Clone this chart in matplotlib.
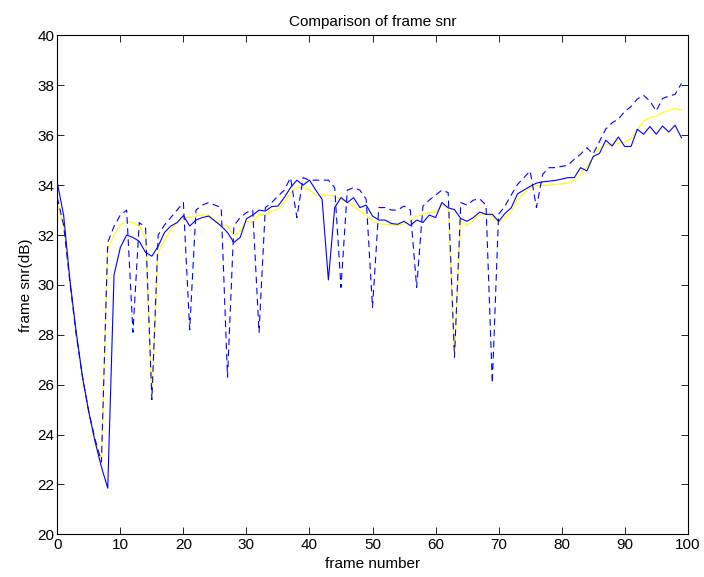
import matplotlib
matplotlib.use("Agg")
import matplotlib.pyplot as plt
import numpy as np

# frame snr values, frames 0..99
frames = np.arange(100)

snr_solid = [
    34.1, 32.8, 30.2, 28.1, 26.3, 24.9, 23.7, 22.7, 21.85, 30.4,
    31.5, 32.0, 31.9, 31.75, 31.3, 31.15, 31.55, 32.1, 32.36, 32.5,
    32.78, 32.36, 32.6, 32.7, 32.76, 32.56, 32.36, 32.1, 31.7, 31.9,
    32.65, 32.8, 33.0, 32.96, 33.14, 33.16, 33.5, 33.9, 34.2, 34.0,
    34.2, 33.8, 33.43, 30.2, 33.1, 33.5, 33.3, 33.5, 33.1, 33.2,
    32.76, 32.6, 32.6, 32.46, 32.43, 32.55, 32.38, 32.6, 32.5, 32.8,
    32.7, 33.3, 33.09, 33.02, 32.66, 32.55, 32.7, 32.92, 32.83, 32.83,
    32.55, 32.86, 33.09, 33.65, 33.8, 33.95, 34.08, 34.13, 34.16, 34.19,
    34.24, 34.3, 34.3, 34.7, 34.57, 35.15, 35.27, 35.8, 35.57, 35.93,
    35.55, 35.55, 36.24, 36.04, 36.35, 36.04, 36.37, 36.13, 36.4, 35.9,
]

snr_yellow = [
    33.3, 32.3, 30.1, 28.0, 26.3, 24.9, 23.8, 23.0, 31.4, 32.0,
    32.4, 32.55, 32.5, 32.35, 31.9, 25.4, 31.3, 31.8, 32.2, 32.5,
    32.7, 32.7, 32.76, 32.8, 32.8, 32.6, 32.42, 32.36, 31.98, 32.15,
    32.56, 32.5, 32.8, 32.8, 32.96, 33.03, 33.3, 33.7, 33.9, 33.9,
    33.8, 33.6, 33.6, 33.6, 33.56, 33.43, 33.3, 33.14, 32.96, 32.8,
    32.56, 32.45, 32.42, 32.42, 32.38, 32.45, 32.55, 32.75, 32.83, 32.9,
    32.92, 33.2, 33.16, 27.1, 32.55, 32.38, 32.6, 32.83, 32.83, 32.75,
    32.5, 32.7, 32.92, 33.43, 33.64, 33.9, 33.97, 33.99, 34.0, 34.03,
    34.05, 34.08, 34.2, 34.44, 34.75, 35.1, 35.5, 35.64, 35.64, 35.68,
    35.73, 35.87, 36.2, 36.57, 36.7, 36.77, 36.9, 37.0, 37.07, 37.0,
]

snr_dashed = [
    33.5, 32.4, 30.1, 28.0, 26.3, 24.9, 23.8, 22.9, 31.7, 32.35,
    32.8, 33.0, 28.1, 32.5, 32.3, 25.4, 32.0, 32.4, 32.7, 33.0,
    33.3, 28.2, 33.0, 33.2, 33.3, 33.2, 33.1, 26.3, 32.36, 32.7,
    32.9, 33.0, 28.1, 33.1, 33.3, 33.56, 33.8, 34.3, 32.7, 34.3,
    34.2, 34.2, 34.2, 34.2, 33.9, 29.9, 33.8, 33.9, 33.8, 33.43,
    29.1, 33.1, 33.1, 33.0, 33.0, 33.16, 33.0, 29.9, 33.16, 33.4,
    33.6, 33.8, 33.7, 27.1, 33.3, 33.2, 33.4, 33.45, 33.2, 26.06,
    32.83, 33.16, 33.6, 34.03, 34.3, 34.57, 33.1, 34.44, 34.7, 34.7,
    34.75, 34.8, 35.04, 35.24, 35.5, 35.25, 35.75, 36.25, 36.5, 36.65,
    36.95, 37.15, 37.45, 37.6, 37.37, 36.97, 37.47, 37.57, 37.64, 38.08,
]

plt.rcParams["font.family"] = ["Liberation Sans", "DejaVu Sans"]

fig = plt.figure(figsize=(7.04, 5.77), dpi=100)
ax = fig.add_axes([0.0814, 0.074, 0.8955, 0.8645])

ax.plot(frames, snr_yellow, color="#ffff00", linewidth=0.8)
ax.plot(frames, snr_solid, color="#0000ff", linewidth=0.8)
ax.plot(frames, snr_dashed, color="#0000ff", linewidth=0.8, dashes=(6, 4))

ax.set_xlim(0, 100)
ax.set_ylim(20, 40)
ax.set_xticks(np.arange(0, 101, 10))
ax.set_yticks(np.arange(20, 41, 2))
ax.tick_params(direction="in", length=5, width=0.6, top=True, right=True,
               labelsize=11, pad=2)
ax.tick_params(axis="x", pad=3)
for sp in ax.spines.values():
    sp.set_linewidth(0.8)

ax.set_title("Comparison of frame snr", fontsize=11, pad=7)
ax.set_xlabel("frame number", fontsize=11, labelpad=3)
ax.set_ylabel("frame snr(dB)", fontsize=11, labelpad=3)

fig.savefig("out.png", dpi=100)
